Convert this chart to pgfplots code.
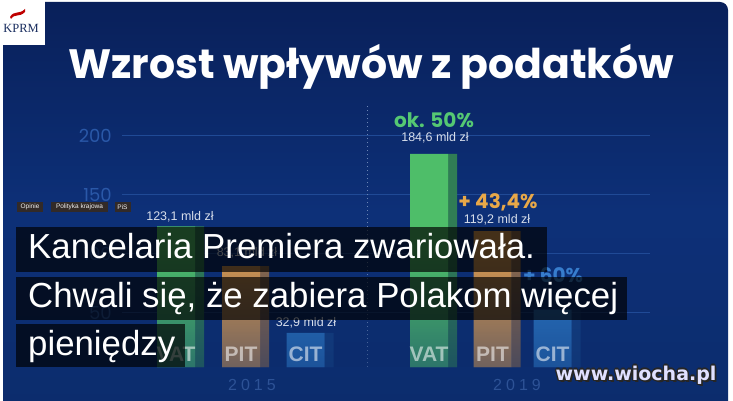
\documentclass[border=0pt]{standalone}
\usepackage{pgfplots}
\usepackage{pgfplotstable}
\pgfplotsset{compat=1.18}
\usetikzlibrary{fadings}
\usepackage{fontspec}
\setmainfont{Liberation Sans}
\newfontfamily\pop{Poppins}
\newfontfamily\serifk{Liberation Serif}
\newfontfamily\dvs{DejaVu Sans}
\newfontfamily\yearfont{Liberation Sans}[LetterSpace=25]

\definecolor{bgtop}{RGB}{9,32,90}
\definecolor{bgmid}{RGB}{13,48,120}
\definecolor{bgbot}{RGB}{12,44,108}
\definecolor{vatL}{RGB}{78,190,105}
\definecolor{vatD}{RGB}{48,125,85}
\definecolor{pitL}{RGB}{214,152,80}
\definecolor{pitD}{RGB}{140,105,75}
\definecolor{citL}{RGB}{45,122,200}
\definecolor{citD}{RGB}{30,85,150}
\definecolor{okgreen}{RGB}{85,200,115}
\definecolor{okorange}{RGB}{232,168,72}
\definecolor{okblue}{RGB}{55,125,205}
\definecolor{ticklab}{RGB}{42,88,168}
\definecolor{gridc}{RGB}{32,74,150}
\definecolor{yearc}{RGB}{45,82,150}
\definecolor{vallab}{RGB}{215,222,235}
\definecolor{kprm}{RGB}{25,45,95}
\definecolor{tagbg}{RGB}{50,42,40}

% x = category position, y = value (mld zl)
\pgfplotstableread{
x y
176 123.1
429 184.6
}\vatdata
\pgfplotstableread{
x y
241 89.5
492.5 119.2
}\pitdata
\pgfplotstableread{
x y
305.5 32.9
552.5 52.6
}\citdata

\tikzset{px/.style={x=1pt, y=1pt, yshift=400pt, yscale=-1}}

\begin{document}
\begin{tikzpicture}
\useasboundingbox (0,0) rectangle (733pt,400pt);
\begin{scope}[px]
\fill[white] (0,0) rectangle (733,400);
\shade[top color=bgtop, bottom color=bgbot, middle color=bgmid, rounded corners=8pt]
  (3,420) -- (3,2) -- (728,2) -- (728,420) -- cycle;
\node[anchor=base, text=white, inner sep=0pt, font=\pop\bfseries\fontsize{41}{44}\selectfont] at (371,78) {Wzrost wpływów z podatków};
\end{scope}

\begin{axis}[
  at={(122pt,33pt)}, anchor=south west,
  scale only axis, width=528pt, height=267.27pt,
  xmin=122, xmax=650, ymin=4, ymax=230.5,
  axis line style={draw=none}, major tick length=0pt,
  xtick=\empty, ytick={50,100,150,200},
  ymajorgrids, grid style={gridc, line width=1.2pt},
  yticklabel style={font=\pop\fontsize{18}{18}\selectfont, text=ticklab, inner sep=0pt, xshift=-10pt},
  /pgf/number format/assume math mode=true,
  ybar, bar width=38,
]
\addplot[fill=vatD, draw=none, bar width=9, bar shift=23.5] table {\vatdata};
\addplot[fill=pitD, draw=none, bar width=9, bar shift=23.5] table {\pitdata};
\addplot[fill=citD, draw=none, bar width=9, bar shift=23.5, fill opacity=0.5] table {\citdata};
\addplot[fill=vatL, draw=none, bar shift=0] table {\vatdata};
\addplot[fill=pitL, draw=none, bar shift=0] table {\pitdata};
\addplot[fill=citL, draw=none, bar shift=0] table {\citdata};
\draw[color=yearc!70!white, line width=1pt, dash pattern=on 1.5pt off 2.5pt] (axis cs:367,4) -- (axis cs:367,226);
\end{axis}

% fade of the lower part of the bars
\fill[bgbot, opacity=0.5, path fading=north] (140pt,33pt) rectangle (600pt,150pt);

\begin{scope}[px]
% value labels
\begin{scope}[every node/.style={text=vallab, inner sep=0pt, font=\fontsize{12.5}{14}\selectfont}]
\node at (180,217) {123,1 mld zł};
\node at (247,253) {83,1 mld zł};
\node at (306,323) {32,9 mld zł};
\node at (435,138) {184,6 mld zł};
\node at (497,220) {119,2 mld zł};
\end{scope}
\begin{scope}[every node/.style={inner sep=0pt, font=\pop\bfseries\fontsize{20}{22}\selectfont}]
\node[text=okgreen] at (434,120) {ok. 50\%};
\node[text=okorange] at (498,202) {+ 43,4\%};
\node[text=okblue] at (553,275) {+ 60\%};
\end{scope}

% category labels
\begin{scope}[every node/.style={text=white, text opacity=0.55, inner sep=0pt, font=\bfseries\fontsize{21}{21}\selectfont}]
\node at (176,354) {VAT};
\node at (241,354) {PIT};
\node at (305.5,354) {CIT};
\node at (429,354) {VAT};
\node at (492.5,354) {PIT};
\node at (552.5,354) {CIT};
\end{scope}
\node[text=yearc, inner sep=0pt, font=\yearfont\fontsize{16}{16}\selectfont] at (252,385) {2015};
\node[text=yearc, inner sep=0pt, font=\yearfont\fontsize{16}{16}\selectfont] at (517,385) {2019};

% headline boxes
\fill[black, opacity=0.68] (16,227) rectangle (547,272);
\fill[black, opacity=0.68] (16,277) rectangle (627,320);
\fill[black, opacity=0.68] (16,324) rectangle (185,367);
\begin{scope}[every node/.style={anchor=base west, inner sep=0pt, text=white, font=\fontsize{34.8}{36}\selectfont}]
\node at (28,258) {Kancelaria Premiera zwariowała.};
\node at (28,307) {Chwali się, że zabiera Polakom więcej};
\node at (28,355) {pieniędzy};
\end{scope}

% tags
\begin{scope}[every node/.style={fill=tagbg, text=white!88!gray, inner sep=0pt, minimum height=10pt, font=\fontsize{6.5}{7}\selectfont}]
\node[minimum width=26pt] at (30,207) {Opinie};
\node[minimum width=57pt] at (79.5,207) {Polityka krajowa};
\node[minimum width=16pt] at (122.5,207) {PiS};
\end{scope}

% logo
\fill[white] (0,0) rectangle (45,45);
\fill[red!75!black] (10,17) .. controls (14,10) and (19,15) .. (25,9) -- (25,12) .. controls (19,18) and (15,13) .. (11,19) -- cycle;
\node[text=kprm, inner sep=0pt, font=\serifk\fontsize{12.5}{13}\selectfont] at (21,28) {KPRM};

% watermark
\foreach \dx/\dy in {-1.3/0,1.3/0,0/-1.3,0/1.3,-1/-1,1/1,-1/1,1/-1,1.8/1.8}{
  \node[text=black!85, inner sep=0pt, font=\dvs\bfseries\fontsize{19}{20}\selectfont] at (636+\dx,375+\dy) {www.wiocha.pl};
}
\node[text=white!88!blue, inner sep=0pt, font=\dvs\bfseries\fontsize{19}{20}\selectfont] at (636,375) {www.wiocha.pl};
\end{scope}
\end{tikzpicture}
\end{document}
